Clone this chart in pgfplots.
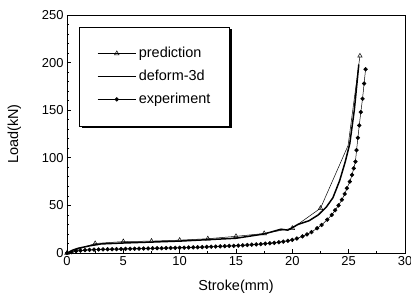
\documentclass[border=0pt]{standalone}
\usepackage{pgfplots}
\pgfplotsset{compat=1.18}
\usepackage{fontspec}
\setmainfont{Liberation Sans}
\usetikzlibrary{shadows,calc}
\begin{document}
\begin{tikzpicture}
\begin{axis}[
  scale only axis, width=338bp, height=238bp,
  xmin=0, xmax=30, ymin=0, ymax=250,
  xtick={0,5,...,30}, ytick={0,50,...,250},
  minor x tick num=1, minor y tick num=4,
  xtick pos=bottom, ytick pos=left,
  tick align=inside,
  axis line style={line width=0.9pt},
  tick style={black, line width=0.7pt},
  major tick length=4bp, minor tick length=2.5bp,
  /pgf/number format/assume math mode=true,
  ticklabel style={font=\fontsize{13}{15}\selectfont},
  xlabel={Stroke(mm)}, ylabel={Load(kN)},
  label style={font=\fontsize{14.5}{16}\selectfont},
  xlabel style={yshift=-8bp},
  ylabel style={yshift=14bp},
  legend cell align=left,
  legend style={at={(0.259,0.742)}, anchor=center, draw=none, fill=none,
    font=\fontsize{14.5}{16}\selectfont, row sep=7bp},
  legend image code/.code={\draw[#1, mark indices={2}] plot coordinates {(0cm,0cm)(0.68cm,0cm)(1.36cm,0cm)};},
]
\draw[black, line width=0.8pt, fill=white,
  drop shadow={shadow xshift=2.5bp, shadow yshift=-2.5bp, fill=black, opacity=1}]
  (rel axis cs:0.037,0.534) rectangle (rel axis cs:0.481,0.95);
\addplot[black, line width=0.5pt, mark=triangle, mark size=2.6pt,
  mark options={fill=white, line width=0.5pt}, mark indices={1,2,3,4,5,6,7,8,9,10,12}]
  coordinates {(0,0) (2.5,10) (5,12) (7.5,12.5) (10,13.5) (12.5,15) (15,17.5) (17.5,20.5) (20,26) (22.5,47) (24.95,113) (26,207)};
\addlegendentry{prediction}
\addplot[black, line width=1.5pt,
  legend image code/.code={\draw[black, line width=1.6pt] (0cm,0cm) -- (1.36cm,0cm);}]
  coordinates {(0,0) (0.5,3) (1,5) (2,7.5) (3,9.5) (5,10.5) (7.5,11.5) (10,12.5) (12.5,14) (15,15.5) (17.5,20) (19,25) (19.6,24) (20.5,30) (21.5,34) (22.3,40) (23,48) (23.6,58) (24.2,76) (24.7,96) (25.1,115) (25.5,150) (25.9,198)};
\addlegendentry{deform-3d}
\addplot[black, line width=0.5pt, mark=*, mark size=1.9pt]
  coordinates {(0,0) (0.4,1) (0.8,2) (1.2,2.6) (1.6,3) (2,3.3) (2.4,3.5) (2.8,3.7) (3.2,3.8) (3.6,3.9) (4,4) (4.4,4.1) (4.8,4.2) (5.2,4.3) (5.6,4.4) (6,4.5) (6.4,4.6) (6.8,4.7) (7.2,4.8) (7.6,4.9) (8,5) (8.4,5.1) (8.8,5.2) (9.2,5.3) (9.6,5.4) (10,5.5) (10.4,5.6) (10.8,5.8) (11.2,5.9) (11.6,6) (12,6.2) (12.4,6.4) (12.8,6.6) (13.2,6.8) (13.6,7) (14,7.2) (14.4,7.4) (14.8,7.6) (15.2,7.8) (15.6,8.1) (16,8.4) (16.4,8.7) (16.8,9) (17.2,9.4) (17.6,9.8) (18,10.2) (18.4,10.7) (18.8,11.3) (19.2,12) (19.6,12.8) (20,13.8) (20.4,15.2) (20.9,17.5) (21.3,19.5) (21.7,22) (22.2,26) (22.6,29.5) (23.1,35) (23.5,40) (23.8,45) (24.1,50) (24.4,56) (24.65,62) (24.85,68) (25.1,75) (25.3,82) (25.45,89) (25.6,96) (25.7,108) (25.82,121) (25.94,134) (26.08,148) (26.23,162) (26.37,178) (26.5,193)};
\addlegendentry{experiment}
\end{axis}
\pgfresetboundingbox
\path (current axis.south west) ++(-67bp,-48bp) rectangle ($(current axis.north east)+(6bp,15bp)$);
\end{tikzpicture}
\end{document}
